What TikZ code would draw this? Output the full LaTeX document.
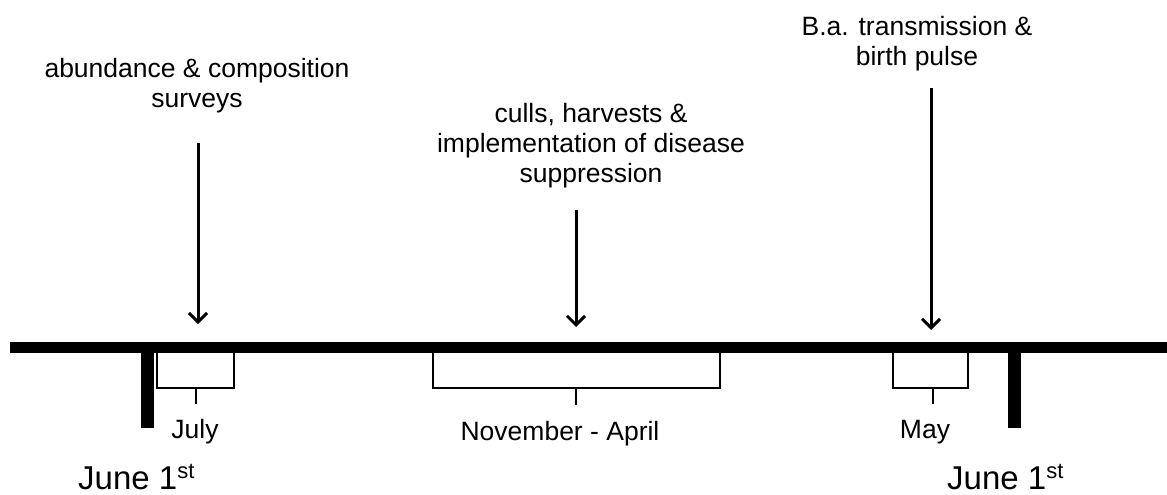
\documentclass[tikz,border=0pt]{standalone}
\usepackage{fontspec}
\setmainfont{Liberation Sans}
\usetikzlibrary{arrows.meta}
\begin{document}
\begin{tikzpicture}[x=1pt,y=-1pt,
  lbl/.style={anchor=base,inner sep=0pt,align=center,font=\fontsize{26.5}{30}\selectfont},
  big/.style={anchor=base west,inner sep=0pt,font=\fontsize{33}{36}\selectfont},
  evarrow/.style={line width=3pt,-{Straight Barb[length=9pt,width=18pt,line width=3pt]}},
  bracket/.style={line width=2pt,line join=miter},
  thickline/.style={line width=11pt},
  tickmark/.style={line width=13pt}]
\useasboundingbox (0,0) rectangle (1167,495);
% timeline
\coordinate (tl0) at (10,347);
\coordinate (tl1) at (1167,347);
\draw[thickline] (tl0) -- (tl1);
% June 1st ticks
\coordinate (j1a) at (147,342);
\coordinate (j1b) at (147,428);
\coordinate (j2a) at (1014,342);
\coordinate (j2b) at (1014,428);
\draw[tickmark] (j1a) -- (j1b);
\draw[tickmark] (j2a) -- (j2b);
% brackets
\coordinate (ja) at (157,352); \coordinate (jb) at (234,352); \coordinate (jc) at (196,388); \coordinate (jd) at (196,404);
\draw[bracket] (ja) |- (jb |- jc) -- (jb);
\draw[bracket] (jc) -- (jd);
\coordinate (na) at (433,352); \coordinate (nb) at (720,352); \coordinate (nc) at (576,388); \coordinate (nd) at (576,405);
\draw[bracket] (na) |- (nb |- nc) -- (nb);
\draw[bracket] (nc) -- (nd);
\coordinate (ma) at (893,352); \coordinate (mb) at (968,352); \coordinate (mc) at (933,388); \coordinate (md) at (933,404);
\draw[bracket] (ma) |- (mb |- mc) -- (mb);
\draw[bracket] (mc) -- (md);
% month labels
\node[lbl] (july) at (195,438) {July};
\node[lbl] (novapr) at (560,440) {November - April};
\node[lbl] (may) at (925,438) {May};
% June labels
\node[big] (june1) at (78,489) {June 1{\fontsize{22}{24}\selectfont\raisebox{0.5em}{st}}};
\node[big] (june2) at (947,489) {June 1{\fontsize{22}{24}\selectfont\raisebox{0.5em}{st}}};
% event labels
\node[lbl] (surv) at (197,107) {abundance \& composition\\surveys};
\node[lbl] (culls) at (591,182) {culls, harvests \&\\implementation of disease\\suppression};
\node[lbl] (trans) at (917,66) {B.a. transmission \&\\birth pulse};
% arrows
\coordinate (a1s) at (198,143); \coordinate (a1e) at (198,324);
\coordinate (a2s) at (576,210); \coordinate (a2e) at (576,327);
\coordinate (a3s) at (931,88); \coordinate (a3e) at (931,330);
\draw[evarrow] (a1s) -- (a1e);
\draw[evarrow] (a2s) -- (a2e);
\draw[evarrow] (a3s) -- (a3e);
\end{tikzpicture}
\end{document}
